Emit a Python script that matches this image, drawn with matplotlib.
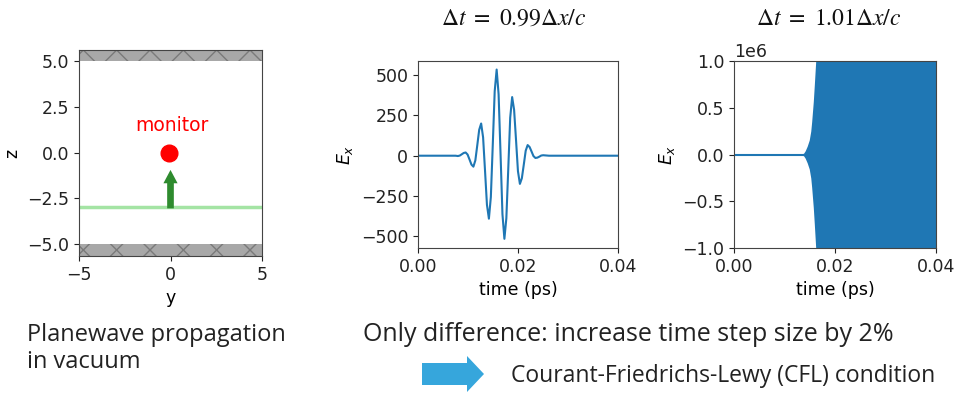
import matplotlib
matplotlib.use("Agg")
import matplotlib.pyplot as plt
from matplotlib.patches import Polygon

# --- data ---
# stable run, dt = 0.99 dx/c : monitor field E_x vs time (ps)
t_stable = [0.0, 0.0075,
            0.00798, 0.00837, 0.00876, 0.00914, 0.00953, 0.00992, 0.01031, 0.01069,
            0.01108, 0.01147, 0.01186, 0.01224, 0.01263, 0.01302, 0.01341, 0.01379,
            0.01418, 0.01457, 0.01496, 0.01534, 0.01573, 0.01612, 0.01651, 0.01689,
            0.01728, 0.01767, 0.01806, 0.01844, 0.01883, 0.01922, 0.01961, 0.01999,
            0.02038, 0.02077, 0.02116, 0.02154, 0.02193, 0.02232, 0.02271, 0.02309,
            0.02348, 0.02387, 0.02426, 0.02464, 0.02503, 0.02542, 0.02581, 0.02619,
            0.02658, 0.04]
ex_stable = [0, 0,
             -2, 1, 9, 17, 20, 7, -24, -55,
             -68, -29, 66, 161, 200, 114, -96, -305,
             -391, -256, 72, 400, 535, 382, 10, -363,
             -516, -388, -76, 236, 364, 285, 95, -96,
             -175, -140, -55, 31, 66, 54, 26, -2,
             -14, -12, -6, 1, 3, 2, 1, 0,
             0, 0]

# unstable run, dt = 1.01 dx/c : envelope of the blowing-up field
t_unstable = [0.0, 0.0128, 0.0134, 0.0138, 0.0141, 0.0145, 0.0149, 0.0152,
              0.01538, 0.0157, 0.0159, 0.01617, 0.0164, 0.04]
env_unstable = [0, 0, 3e3, 1.5e4, 4e4, 9e4, 1.55e5, 2.5e5,
                3.5e5, 5.65e5, 7.4e5, 9.9e5, 1.3e6, 1.3e6]

titles = [r"$\Delta t\ =\ 0.99\Delta x/c$", r"$\Delta t\ =\ 1.01\Delta x/c$"]

plt.rcParams['font.family'] = 'DejaVu Sans'
plt.rcParams['hatch.color'] = '#7a7a7a'

W, H = 967, 394
fig = plt.figure(figsize=(W / 100, H / 100), dpi=100)

def ax_at(l, t, r, b):
    return fig.add_axes([l / W, 1 - b / H, (r - l) / W, (b - t) / H])

tick_fs = 12.5

# --- simulation layout ---
ax1 = ax_at(79, 50, 262, 256)
ax1.set_xlim(-5, 5)
ax1.set_ylim(-5.65, 5.6)
ax1.axhspan(5.0, 5.6, facecolor='#a8a8a8', edgecolor='#7a7a7a', hatch='x', lw=0)
ax1.axhspan(-5.65, -5.0, facecolor='#a8a8a8', edgecolor='#7a7a7a', hatch='x', lw=0)
ax1.axhline(-3, color='#a4e4a4', lw=2.5)
ax1.annotate('', xy=(0, -0.95), xytext=(0, -3.05),
             arrowprops=dict(arrowstyle='simple,head_length=0.8,head_width=0.85,tail_width=0.4',
                             mutation_scale=12, facecolor='#2e8b2e', edgecolor='none',
                             shrinkA=0, shrinkB=0))
ax1.plot([-0.1], [-0.05], 'o', color='red', markersize=12)
ax1.text(0.1, 1.45, 'monitor', color='red', fontsize=13.5, ha='center', va='center')
ax1.set_xticks([-5, 0, 5])
ax1.set_yticks([-5, -2.5, 0, 2.5, 5])
ax1.set_xlabel('y', fontsize=tick_fs)
ax1.set_ylabel('z', fontsize=tick_fs)

# --- stable ---
ax2 = ax_at(418, 61, 618, 248)
ax2.plot(t_stable, ex_stable, color='#1f77b4', lw=1.5)
ax2.set_xlim(0, 0.04)
ax2.set_ylim(-573, 588)
ax2.set_xticks([0, 0.02, 0.04])
ax2.set_yticks([-500, -250, 0, 250, 500])
ax2.set_xlabel('time (ps)', fontsize=tick_fs)
ax2.set_ylabel(r'$E_x$', fontsize=tick_fs)

# --- unstable ---
ax3 = ax_at(734, 61, 936, 248)
neg_env = [-v for v in env_unstable]
ax3.fill_between(t_unstable, neg_env, env_unstable, color='#1f77b4', lw=0)
ax3.plot([0, 0.0145], [0, 0], color='#1f77b4', lw=1.5)
ax3.set_xlim(0, 0.04)
ax3.set_ylim(-1e6, 1e6)
ax3.set_xticks([0, 0.02, 0.04])
ax3.set_yticks([-1e6, -0.5e6, 0, 0.5e6, 1e6])
ax3.set_xlabel('time (ps)', fontsize=tick_fs)
ax3.set_ylabel(r'$E_x$', fontsize=tick_fs)
ax3.yaxis.get_offset_text().set_fontsize(tick_fs)

for ax in (ax1, ax2, ax3):
    ax.tick_params(labelsize=tick_fs, colors='#222222')
    for s in ax.spines.values():
        s.set_color('#444444')

# --- titles ---
fig.text(514 / W, 1 - 25 / H, titles[0], fontsize=17, ha='center', va='baseline',
         math_fontfamily='stix', color='#111111')
fig.text(829 / W, 1 - 25 / H, titles[1], fontsize=17, ha='center', va='baseline',
         math_fontfamily='stix', color='#111111')

# --- annotations below ---
txt = dict(family='Open Sans', color='#222222', va='baseline', ha='left')
fig.text(27 / W, 1 - 341 / H, 'Planewave propagation', fontsize=17, **txt)
fig.text(27 / W, 1 - 368 / H, 'in vacuum', fontsize=17, **txt)
fig.text(363 / W, 1 - 341 / H, 'Only difference: increase time step size by 2%',
         fontsize=18, **txt)
fig.text(511 / W, 1 - 382 / H, 'Courant-Friedrichs-Lewy (CFL) condition',
         fontsize=16.5, **txt)

arrow_px = [(422, 363), (467, 363), (467, 356), (484, 374),
            (467, 392), (467, 385), (422, 385)]
fig.patches.append(Polygon([(x / W, 1 - y / H) for x, y in arrow_px], closed=True,
                           transform=fig.transFigure, facecolor='#36a6dc', edgecolor='none'))

fig.savefig('out.png', dpi=100)
